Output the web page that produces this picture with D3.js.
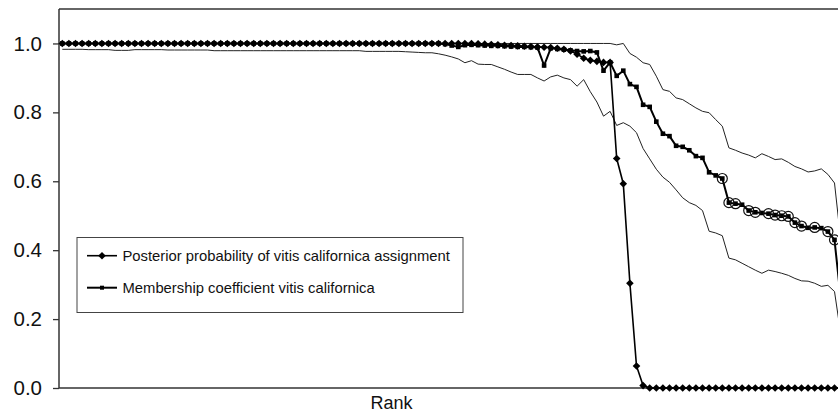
<!DOCTYPE html>
<html>
<head>
<meta charset="utf-8">
<script src="https://cdn.jsdelivr.net/npm/d3@7/dist/d3.min.js"></script>
<style>
body { margin: 0; background: #fff; }
svg { display: block; font-family: "Liberation Sans", Arial, sans-serif; }
</style>
</head>
<body>
<script>
// values, one per rank (left to right)

var posterior = [
  1, 1, 1, 1, 1, 1, 1, 1, 1, 1, 1, 1, 1, 1, 1, 1, 1, 1, 1, 1,
  1, 1, 1, 1, 1, 1, 1, 1, 1, 1, 1, 1, 1, 1, 1, 1, 1, 1, 1, 1,
  1, 1, 1, 1, 1, 1, 1, 1, 1, 1, 1, 1, 1, 1, 1, 1, 1, 1, 1, 1,
  1, 1, 1, 0.999, 0.998, 0.997, 0.996, 0.995, 0.994, 0.993,
  0.992, 0.991, 0.99, 0.989, 0.988, 0.986, 0.983, 0.978, 0.969, 0.957,
  0.951, 0.948, 0.945, 0.945, 0.666, 0.593, 0.304, 0.064, 0.007, 0,
  0, 0, 0, 0, 0, 0, 0, 0, 0, 0,
  0, 0, 0, 0, 0, 0, 0, 0, 0, 0,
  0, 0, 0, 0, 0, 0, 0, 0, 0
]

var membership = [
  1, 1, 1, 1, 1, 1, 1, 1, 1, 1, 1, 1, 1, 1, 1, 1, 1, 1, 1, 1,
  1, 1, 1, 1, 1, 1, 1, 1, 1, 1, 1, 1, 1, 1, 1, 1, 1, 1, 1, 1,
  1, 1, 1, 1, 1, 1, 1, 1, 1, 1, 1, 1, 1, 1, 1, 1, 1, 1,
  0.998, 0.994, 0.99, 0.995, 0.996, 0.995, 0.994, 0.993, 0.993, 0.992,
  0.991, 0.99, 0.99, 0.989, 0.988, 0.936, 0.986, 0.984, 0.982, 0.98,
  0.978, 0.977, 0.978, 0.974, 0.921, 0.945, 0.906, 0.921, 0.882, 0.874,
  0.822, 0.816, 0.773, 0.738, 0.731, 0.703, 0.7, 0.69, 0.673, 0.668,
  0.626, 0.617, 0.608, 0.538, 0.535, 0.532, 0.515, 0.51, 0.508, 0.506,
  0.502, 0.5, 0.498, 0.48, 0.47, 0.465, 0.466, 0.464, 0.454, 0.43,
  0.25
]

var upperBound = [
  1, 1, 1, 1, 1, 1, 1, 1, 1, 1, 1, 1, 1, 1, 1, 1, 1, 1, 1, 1,
  1, 1, 1, 1, 1, 1, 1, 1, 1, 1, 1, 1, 1, 1, 1, 1, 1, 1, 1, 1,
  1, 1, 1, 1, 1, 1, 1, 1, 1, 1, 1, 1, 1, 1, 1, 1, 1, 1, 1, 1,
  1, 1, 1, 1, 1, 1, 1, 1, 1, 1, 1, 1, 1, 1, 1, 1, 1, 1, 1, 1,
  1, 1, 1, 1,
  0.996, 1, 0.971, 0.96, 0.944, 0.939, 0.905, 0.866, 0.861, 0.842,
  0.837, 0.825, 0.813, 0.803, 0.799, 0.779, 0.76, 0.697, 0.69, 0.682,
  0.676, 0.668, 0.68, 0.672, 0.663, 0.665, 0.655, 0.643, 0.636, 0.627,
  0.63, 0.636, 0.62, 0.595, 0.42
]

var lowerBound = [
  0.983, 0.983, 0.983, 0.983, 0.982, 0.982, 0.982, 0.982, 0.98, 0.98,
  0.98, 0.982, 0.982, 0.982, 0.982, 0.982, 0.981, 0.981, 0.981, 0.981,
  0.981, 0.981, 0.981, 0.979, 0.979, 0.979, 0.979, 0.979, 0.979, 0.979,
  0.979, 0.979, 0.979, 0.979, 0.979, 0.979, 0.979, 0.979, 0.979, 0.979,
  0.979, 0.979, 0.979, 0.979, 0.979, 0.979, 0.977, 0.977, 0.977, 0.977,
  0.977, 0.977, 0.976, 0.975, 0.974, 0.973, 0.973, 0.97, 0.966, 0.961,
  0.955, 0.944, 0.95, 0.94, 0.939, 0.939, 0.932, 0.925, 0.917, 0.91,
  0.91, 0.91, 0.9, 0.891, 0.903, 0.908, 0.9, 0.895, 0.876, 0.895,
  0.86, 0.83, 0.789, 0.803, 0.762, 0.77, 0.76, 0.741, 0.695, 0.665,
  0.635, 0.612, 0.597, 0.575, 0.552, 0.538, 0.53, 0.515, 0.455, 0.45,
  0.442, 0.377, 0.372, 0.362, 0.352, 0.342, 0.333, 0.342, 0.338, 0.333,
  0.327, 0.318, 0.311, 0.31, 0.304, 0.295, 0.298, 0.28, 0.15
]

// ranks drawn with an open circle on the membership curve
var circledRanks = [100, 101, 102, 104, 105, 107, 108, 109, 110, 111, 112, 114, 116, 117]

var yTicks = [0, 0.2, 0.4, 0.6, 0.8, 1.0]

var legendLabels = [
  'Posterior probability of vitis californica assignment',
  'Membership coefficient vitis californica'
]

// page setup

var width = 838
var height = 413

var svg = d3.select('body').append('svg')
  .attr('width', width)
  .attr('height', height)

var plotLeft = 59
var plotTop = 9
var plotBottom = 388
var step = 6.6

var x = d3.scaleBand()
  .domain(d3.range(posterior.length))
  .range([plotLeft, plotLeft + posterior.length * step])

function cx(i) {
  return x(i) + x.bandwidth() / 2
}

var y = d3.scaleLinear()
  .domain([0, 1.1])
  .range([plotBottom, plotTop])

// y axis with ticks pointing out

var yAxis = svg.append('g')
  .attr('transform', `translate(${plotLeft}, 0)`)
  .call(d3.axisLeft(y)
    .tickValues(yTicks)
    .tickFormat(d3.format('.1f'))
    .tickSize(6)
    .tickPadding(11))

yAxis.select('.domain').remove()
yAxis.selectAll('line')
  .attr('stroke', '#333')
  .attr('stroke-width', 1.3)
yAxis.selectAll('text')
  .attr('fill', '#111')
  .style('font-family', '"Liberation Sans", Arial, sans-serif')
  .style('font-size', '20.5px')

// frame: left, bottom and top edges

var frame = svg.append('g')
  .attr('stroke', '#333')
  .attr('stroke-width', 1.5)

frame.append('line')
  .attr('x1', plotLeft).attr('x2', plotLeft)
  .attr('y1', y(1.1)).attr('y2', y(0))
frame.append('line')
  .attr('x1', plotLeft).attr('x2', width)
  .attr('y1', y(0)).attr('y2', y(0))
frame.append('line')
  .attr('x1', plotLeft).attr('x2', width)
  .attr('y1', y(1.1)).attr('y2', y(1.1))

svg.append('text')
  .attr('x', 391.5)
  .attr('y', 409)
  .attr('text-anchor', 'middle')
  .attr('fill', '#111')
  .style('font-size', '18px')
  .text('Rank')

var line = d3.line()
  .x(function(d, i) { return cx(i) })
  .y(function(d) { return y(d) })

// confidence bounds

svg.append('path')
  .datum(upperBound)
  .attr('fill', 'none')
  .attr('stroke', '#222')
  .attr('stroke-width', 1)
  .attr('d', line)

svg.append('path')
  .datum(lowerBound)
  .attr('fill', 'none')
  .attr('stroke', '#222')
  .attr('stroke-width', 1)
  .attr('d', line)

// membership coefficient

svg.append('path')
  .datum(membership)
  .attr('fill', 'none')
  .attr('stroke', '#000')
  .attr('stroke-width', 2)
  .attr('d', line)

svg.append('g')
  .selectAll('rect')
  .data(membership)
  .enter()
  .append('rect')
  .attr('x', function(d, i) { return cx(i) - 2.3 })
  .attr('y', function(d) { return y(d) - 2.3 })
  .attr('width', 4.6)
  .attr('height', 4.6)
  .attr('fill', '#000')

// posterior probability

var diamond = 'M0,-3.8L3.8,0L0,3.8L-3.8,0Z'

svg.append('path')
  .datum(posterior)
  .attr('fill', 'none')
  .attr('stroke', '#000')
  .attr('stroke-width', 1.6)
  .attr('d', line)

svg.append('g')
  .selectAll('path')
  .data(posterior)
  .enter()
  .append('path')
  .attr('d', diamond)
  .attr('fill', '#000')
  .attr('transform', function(d, i) {
    return `translate(${cx(i)}, ${y(d)})`
  })

// open circles

svg.append('g')
  .selectAll('circle')
  .data(circledRanks)
  .enter()
  .append('circle')
  .attr('cx', function(d) { return cx(d) })
  .attr('cy', function(d) { return y(membership[d]) })
  .attr('r', 5)
  .attr('fill', 'none')
  .attr('stroke', '#111')
  .attr('stroke-width', 1.2)

// legend

var legend = svg.append('g')

legend.append('rect')
  .attr('x', 77)
  .attr('y', 237.5)
  .attr('width', 386)
  .attr('height', 75)
  .attr('fill', '#fff')
  .attr('stroke', '#444')
  .attr('stroke-width', 1)

var entry = legend.selectAll('.entry')
  .data(legendLabels)
  .enter()
  .append('g')
  .attr('class', 'entry')
  .attr('transform', function(d, i) {
    return `translate(0, ${i === 0 ? 255.7 : 287.7})`
  })

entry.append('line')
  .attr('x1', 87).attr('x2', 117)
  .attr('y1', 0).attr('y2', 0)
  .attr('stroke', '#000')
  .attr('stroke-width', function(d, i) { return i === 0 ? 1.6 : 2 })

entry.filter(function(d, i) { return i === 0 })
  .append('path')
  .attr('d', diamond)
  .attr('transform', 'translate(102, 0)')
  .attr('fill', '#000')

entry.filter(function(d, i) { return i === 1 })
  .append('rect')
  .attr('x', 100).attr('y', -2)
  .attr('width', 4).attr('height', 4)
  .attr('fill', '#000')

entry.append('text')
  .attr('x', 122.5)
  .attr('y', 5.4)
  .attr('fill', '#111')
  .style('font-size', '14.8px')
  .text(function(d) { return d })
</script>
</body>
</html>
